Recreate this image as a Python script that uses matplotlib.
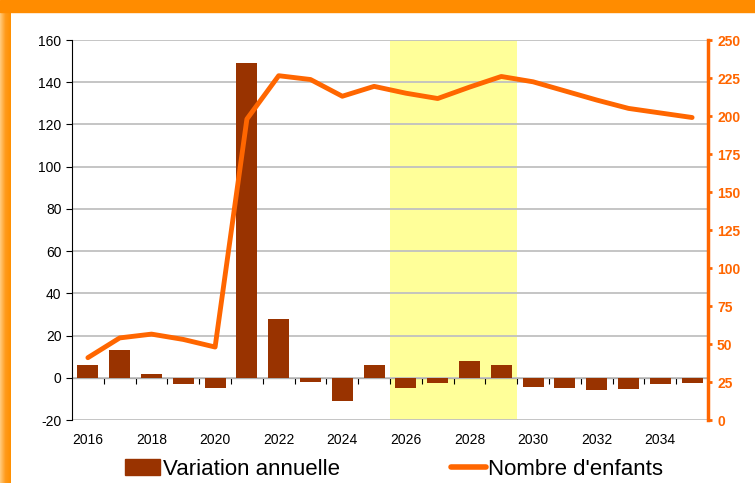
import numpy as np
import matplotlib.pyplot as plt
from matplotlib.patches import Rectangle
from matplotlib.lines import Line2D
from matplotlib.colors import LinearSegmentedColormap

plt.rcParams['font.family'] = ['Liberation Sans', 'DejaVu Sans']
plt.rcParams['axes.unicode_minus'] = False

years = list(range(2016, 2036))
variation = [6, 13, 2, -3, -5, 149, 28, -2, -11, 6,
             -5, -2.5, 8, 6, -4.3, -5, -5.7, -5.2, -3, -2.5]
enfants = [41, 54, 56.5, 53, 48, 198, 226.5, 224, 213, 219.5,
           215, 211.5, 219, 226, 222.5, 216.5, 210.5, 205, 202, 199]
left_ticks = list(range(-20, 161, 20))
right_ticks = list(range(0, 251, 25))
proj_start, proj_end = 2026, 2029

bar_col = '#993300'
line_col = '#FF6600'

fig = plt.figure(figsize=(7.55, 4.83), dpi=100)

# orange frame
fig.patches.append(Rectangle((0, 1 - 12 / 483), 1, 12 / 483, transform=fig.transFigure,
                             color='#FF8C00', zorder=0))
gax = fig.add_axes([0, 0, 11 / 755, 1 - 12 / 483])
grad = np.linspace(0, 1, 50).reshape(1, -1)
cmap = LinearSegmentedColormap.from_list('o', ['#FFCC80', '#FF9A1A', '#FF9000'])
gax.imshow(grad, aspect='auto', cmap=cmap)
gax.axis('off')

ax = fig.add_axes([72 / 755, 63 / 483, 636 / 755, 380 / 483])
x = np.arange(len(years))

i0 = years.index(proj_start)
i1 = years.index(proj_end)
ax.axvspan(i0 - 0.5, i1 + 0.5, color='#FFFF99', zorder=0, lw=0)
ax.set_axisbelow(True)
ax.grid(axis='y', color='#C0C0C0', lw=1.3)
ax.bar(x, variation, width=0.66, color=bar_col, zorder=2)

ax.set_xlim(-0.5, len(years) - 0.5)
ax.set_ylim(-20, 160)
ax.set_yticks(left_ticks)
ax.tick_params(axis='y', labelsize=10, length=4, direction='out', color='black')
ax.set_xticks(x[::2])
ax.set_xticklabels([str(y) for y in years[::2]], fontsize=10)
ax.tick_params(axis='x', length=0, pad=9)
for s in ['top', 'right', 'bottom']:
    ax.spines[s].set_visible(False)
ax.spines['left'].set_color('black')

# zero axis with category boundary ticks
sec = ax.secondary_xaxis(20 / 180)
sec.set_xticks(np.arange(0.5, len(years) - 1, 1.0))
sec.set_xticklabels([])
sec.tick_params(length=4, direction='out', color='black')
sec.spines['bottom'].set_color('black')

ax2 = ax.twinx()
ax2.plot(x, enfants, color=line_col, lw=3.5, solid_capstyle='round', zorder=3)
ax2.set_ylim(0, 250)
ax2.set_yticks(right_ticks)
ax2.tick_params(axis='y', colors=line_col, length=3, width=2, labelsize=10)
for lab in ax2.get_yticklabels():
    lab.set_fontweight('bold')
for s in ['top', 'left', 'bottom']:
    ax2.spines[s].set_visible(False)
ax2.spines['right'].set_color(line_col)
ax2.spines['right'].set_linewidth(2.5)

handles = [Rectangle((0, 0), 1, 1, color=bar_col),
           Line2D([0], [0], color=line_col, lw=4, solid_capstyle='round')]
fig.legend(handles, ['Variation annuelle', "Nombre d'enfants"], ncol=2, frameon=False,
           loc='center', bbox_to_anchor=(0.522, 0.028), fontsize=16,
           handlelength=1.6, handletextpad=0.1, columnspacing=5.0,
           borderpad=0, borderaxespad=0)

fig.savefig('out.png', dpi=100)
